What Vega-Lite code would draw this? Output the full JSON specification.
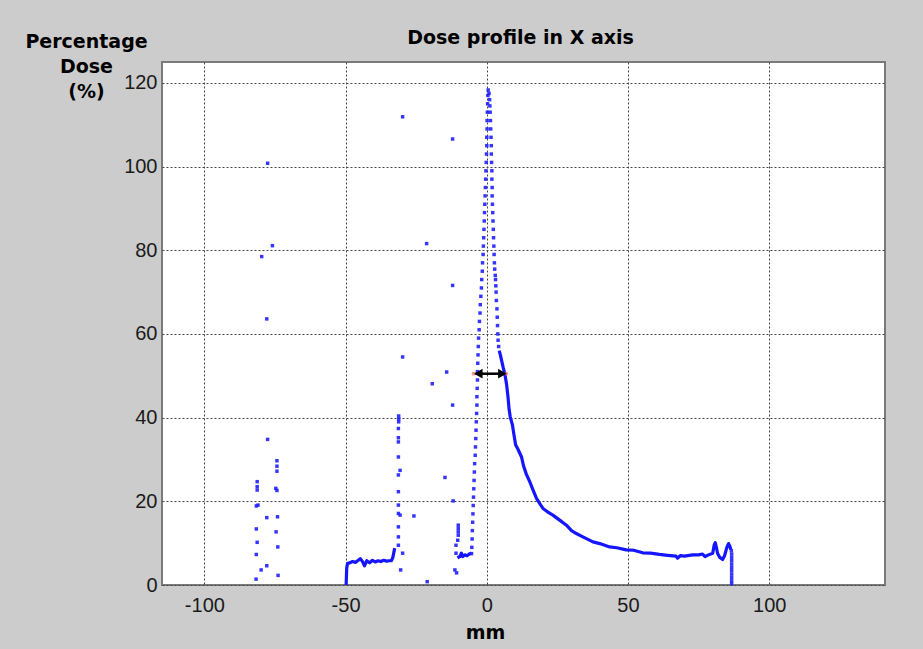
{
  "$schema": "https://vega.github.io/schema/vega-lite/v6.json",
  "width": 723,
  "height": 523,
  "autosize": {"type": "none"},
  "padding": {"left": 162, "top": 62, "right": 38, "bottom": 64},
  "background": "#cccccc",
  "config": {
    "view": {"fill": "white", "stroke": "#7a7a7a", "strokeWidth": 2},
    "axis": {
      "grid": true,
      "gridColor": "#444444",
      "gridDash": [2, 2],
      "gridWidth": 1,
      "ticks": false,
      "domain": false,
      "labelFont": "Liberation Sans",
      "labelFontSize": 20,
      "labelColor": "#1a1a1a",
      "titleFont": "DejaVu Sans",
      "titleFontSize": 19,
      "titleFontWeight": "bold",
      "titleColor": "#000000"
    }
  },
  "title": {
    "text": "Dose profile in X axis",
    "font": "DejaVu Sans",
    "fontSize": 19,
    "fontWeight": "bold",
    "color": "#000000",
    "anchor": "middle",
    "frame": "group",
    "baseline": "alphabetic",
    "offset": 19,
    "dy": 50,
    "dx": -3
  },
  "datasets": {
    "lines": [
      {"s": "plateau", "x": -49.8, "y": 0},
      {"s": "plateau", "x": -49.7, "y": 2},
      {"s": "plateau", "x": -49.6, "y": 4},
      {"s": "plateau", "x": -49.3, "y": 5.2},
      {"s": "plateau", "x": -48.5, "y": 5.3},
      {"s": "plateau", "x": -47.5, "y": 5.6},
      {"s": "plateau", "x": -46.5, "y": 5.4},
      {"s": "plateau", "x": -45.5, "y": 5.9},
      {"s": "plateau", "x": -44.8, "y": 6.3},
      {"s": "plateau", "x": -44.0, "y": 5.6},
      {"s": "plateau", "x": -43.3, "y": 4.6},
      {"s": "plateau", "x": -42.5, "y": 5.8},
      {"s": "plateau", "x": -41.5, "y": 5.3},
      {"s": "plateau", "x": -40.5, "y": 5.9},
      {"s": "plateau", "x": -39.5, "y": 5.5},
      {"s": "plateau", "x": -38.5, "y": 5.8},
      {"s": "plateau", "x": -37.5, "y": 5.6},
      {"s": "plateau", "x": -36.5, "y": 5.9},
      {"s": "plateau", "x": -35.5, "y": 5.7},
      {"s": "plateau", "x": -34.5, "y": 5.8},
      {"s": "plateau", "x": -33.8, "y": 5.8},
      {"s": "plateau", "x": -33.3, "y": 6.5},
      {"s": "plateau", "x": -32.6, "y": 8.8},
      {"s": "small", "x": -10.4, "y": 6.5},
      {"s": "small", "x": -9.5, "y": 6.8},
      {"s": "small", "x": -9.0, "y": 7.6},
      {"s": "small", "x": -8.5, "y": 6.8},
      {"s": "small", "x": -7.8, "y": 7.2},
      {"s": "small", "x": -7.0, "y": 7.0},
      {"s": "small", "x": -6.2, "y": 7.4},
      {"s": "small", "x": -5.5, "y": 7.6},
      {"s": "tail", "x": 4.4, "y": 56},
      {"s": "tail", "x": 4.8, "y": 55},
      {"s": "tail", "x": 5.3, "y": 53.5},
      {"s": "tail", "x": 5.8, "y": 52},
      {"s": "tail", "x": 6.4, "y": 50.4},
      {"s": "tail", "x": 7.0, "y": 48},
      {"s": "tail", "x": 7.5, "y": 45},
      {"s": "tail", "x": 7.9, "y": 42},
      {"s": "tail", "x": 8.3, "y": 40.2},
      {"s": "tail", "x": 9.1, "y": 38.2},
      {"s": "tail", "x": 9.6, "y": 36},
      {"s": "tail", "x": 10.2, "y": 33.5},
      {"s": "tail", "x": 11.0, "y": 32.5},
      {"s": "tail", "x": 12.3, "y": 30.6},
      {"s": "tail", "x": 13.0, "y": 28.5},
      {"s": "tail", "x": 14.0, "y": 26.5},
      {"s": "tail", "x": 15.2, "y": 24.7},
      {"s": "tail", "x": 16.5, "y": 22.5},
      {"s": "tail", "x": 17.6, "y": 20.7},
      {"s": "tail", "x": 19.0, "y": 19.2},
      {"s": "tail", "x": 19.9, "y": 18.3},
      {"s": "tail", "x": 21.5, "y": 17.5},
      {"s": "tail", "x": 23.4, "y": 16.7},
      {"s": "tail", "x": 25.8, "y": 15.5},
      {"s": "tail", "x": 28.2, "y": 14.3},
      {"s": "tail", "x": 30.0, "y": 13.0},
      {"s": "tail", "x": 31.7, "y": 12.3},
      {"s": "tail", "x": 34.0, "y": 11.5},
      {"s": "tail", "x": 37.6, "y": 10.3},
      {"s": "tail", "x": 40.0, "y": 9.9},
      {"s": "tail", "x": 43.5, "y": 9.1},
      {"s": "tail", "x": 46.0, "y": 8.9},
      {"s": "tail", "x": 49.4, "y": 8.4},
      {"s": "tail", "x": 52.0, "y": 8.3},
      {"s": "tail", "x": 55.2, "y": 7.7},
      {"s": "tail", "x": 58.0, "y": 7.6},
      {"s": "tail", "x": 61.1, "y": 7.3},
      {"s": "tail", "x": 64.0, "y": 7.1},
      {"s": "tail", "x": 67.0, "y": 6.9},
      {"s": "tail", "x": 67.5, "y": 6.4},
      {"s": "tail", "x": 68.5, "y": 7.0},
      {"s": "tail", "x": 70.0, "y": 6.9},
      {"s": "tail", "x": 72.9, "y": 7.2},
      {"s": "tail", "x": 75.0, "y": 7.2},
      {"s": "tail", "x": 76.4, "y": 7.4},
      {"s": "tail", "x": 77.3, "y": 6.8},
      {"s": "tail", "x": 78.5, "y": 7.2},
      {"s": "tail", "x": 80.0, "y": 7.6},
      {"s": "tail", "x": 80.5, "y": 9.5},
      {"s": "tail", "x": 80.9, "y": 10.1},
      {"s": "tail", "x": 81.3, "y": 9.0},
      {"s": "tail", "x": 81.7, "y": 7.6},
      {"s": "tail", "x": 82.5, "y": 6.6},
      {"s": "tail", "x": 83.5, "y": 6.1},
      {"s": "tail", "x": 84.2, "y": 7.0},
      {"s": "tail", "x": 85.0, "y": 9.0},
      {"s": "tail", "x": 85.6, "y": 9.9},
      {"s": "tail", "x": 86.1, "y": 9.2},
      {"s": "tail", "x": 86.4, "y": 8.5}
    ],
    "dots": [
      {"x": -77.6, "y": 100.8}, {"x": -75.9, "y": 81.1}, {"x": -79.7, "y": 78.5}, {"x": -77.9, "y": 63.6},
      {"x": -77.6, "y": 34.8}, {"x": -74.3, "y": 29.7}, {"x": -74.3, "y": 28.4}, {"x": -74.3, "y": 27.2},
      {"x": -81.3, "y": 24.7}, {"x": -81.3, "y": 23.5}, {"x": -81.3, "y": 22.7}, {"x": -74.7, "y": 23.1},
      {"x": -74.3, "y": 22.6}, {"x": -81.0, "y": 19.1}, {"x": -81.6, "y": 18.9}, {"x": -77.9, "y": 16.1},
      {"x": -74.1, "y": 16.3}, {"x": -81.6, "y": 13.4}, {"x": -74.6, "y": 12.7}, {"x": -81.3, "y": 10.2},
      {"x": -74.0, "y": 9.1}, {"x": -81.6, "y": 7.3}, {"x": -77.9, "y": 4.6}, {"x": -79.9, "y": 3.6},
      {"x": -73.9, "y": 2.3}, {"x": -81.7, "y": 1.4},
      {"x": -31.3, "y": 9.5}, {"x": -31.3, "y": 11.5}, {"x": -31.3, "y": 13.9}, {"x": -31.3, "y": 17.1},
      {"x": -31.3, "y": 19.1}, {"x": -31.3, "y": 22.3}, {"x": -31.3, "y": 26.3}, {"x": -31.3, "y": 30.6},
      {"x": -31.3, "y": 34.2}, {"x": -31.3, "y": 35.2}, {"x": -31.3, "y": 37.4}, {"x": -31.2, "y": 39.0},
      {"x": -31.2, "y": 39.7}, {"x": -31.2, "y": 40.4}, {"x": -30.7, "y": 27.4}, {"x": -30.7, "y": 16.7},
      {"x": -29.8, "y": 111.9}, {"x": -12.1, "y": 106.6}, {"x": -21.3, "y": 81.6}, {"x": -12.1, "y": 71.6},
      {"x": -29.8, "y": 54.5}, {"x": -14.2, "y": 50.9}, {"x": -19.3, "y": 48.1}, {"x": -12.1, "y": 43.0},
      {"x": -14.8, "y": 25.7}, {"x": -11.9, "y": 20.1}, {"x": -25.8, "y": 16.5}, {"x": -29.8, "y": 7.6},
      {"x": -30.5, "y": 3.6}, {"x": -21.1, "y": 0.8},
      {"x": -10.1, "y": 14.3}, {"x": -10.1, "y": 13.5}, {"x": -10.1, "y": 12.7}, {"x": -10.1, "y": 11.9},
      {"x": -10.3, "y": 10.7}, {"x": -10.9, "y": 9.5}, {"x": -10.9, "y": 7.6}, {"x": -11.3, "y": 3.6},
      {"x": -10.7, "y": 2.9},
      {"x": -5.4, "y": 7.5}, {"x": -5.3, "y": 9}, {"x": -5.2, "y": 11}, {"x": -5.1, "y": 13}, {"x": -5.0, "y": 15},
      {"x": -4.9, "y": 17}, {"x": -4.8, "y": 19}, {"x": -4.7, "y": 21}, {"x": -4.6, "y": 23}, {"x": -4.5, "y": 25},
      {"x": -4.4, "y": 27}, {"x": -4.3, "y": 29}, {"x": -4.1, "y": 31}, {"x": -4.0, "y": 33}, {"x": -3.9, "y": 35},
      {"x": -3.8, "y": 37}, {"x": -3.7, "y": 39}, {"x": -3.6, "y": 41}, {"x": -3.5, "y": 43}, {"x": -3.5, "y": 45},
      {"x": -3.4, "y": 47}, {"x": -3.3, "y": 49}, {"x": -3.3, "y": 51}, {"x": -3.2, "y": 53}, {"x": -3.1, "y": 55},
      {"x": -3.0, "y": 57}, {"x": -2.9, "y": 59}, {"x": -2.7, "y": 61}, {"x": -2.6, "y": 63}, {"x": -2.4, "y": 65},
      {"x": -2.3, "y": 67}, {"x": -2.1, "y": 69}, {"x": -1.9, "y": 71}, {"x": -1.8, "y": 73}, {"x": -1.6, "y": 75},
      {"x": -1.5, "y": 77}, {"x": -1.3, "y": 79}, {"x": -1.2, "y": 81}, {"x": -1.1, "y": 83}, {"x": -1.0, "y": 85},
      {"x": -0.9, "y": 87}, {"x": -0.8, "y": 89}, {"x": -0.7, "y": 91}, {"x": -0.6, "y": 93}, {"x": -0.5, "y": 95},
      {"x": -0.4, "y": 97}, {"x": -0.3, "y": 99}, {"x": -0.2, "y": 101}, {"x": -0.1, "y": 103}, {"x": 0.0, "y": 105},
      {"x": 0.0, "y": 107}, {"x": 0.1, "y": 109}, {"x": 0.1, "y": 111}, {"x": 0.2, "y": 113}, {"x": 0.3, "y": 115},
      {"x": 0.4, "y": 117}, {"x": 0.5, "y": 118.3},
      {"x": 0.8, "y": 117.5}, {"x": 1.0, "y": 116}, {"x": 1.1, "y": 114.5}, {"x": 1.2, "y": 113}, {"x": 1.3, "y": 111},
      {"x": 1.4, "y": 109}, {"x": 1.5, "y": 107}, {"x": 1.6, "y": 105}, {"x": 1.6, "y": 103}, {"x": 1.7, "y": 101},
      {"x": 1.8, "y": 99}, {"x": 1.8, "y": 97}, {"x": 1.9, "y": 95}, {"x": 1.9, "y": 93}, {"x": 2.0, "y": 91},
      {"x": 2.1, "y": 89}, {"x": 2.2, "y": 87}, {"x": 2.3, "y": 85}, {"x": 2.4, "y": 83}, {"x": 2.5, "y": 81},
      {"x": 2.6, "y": 79}, {"x": 2.7, "y": 77}, {"x": 2.8, "y": 75.5}, {"x": 3.0, "y": 74}, {"x": 3.1, "y": 73},
      {"x": 3.2, "y": 71.5}, {"x": 3.3, "y": 70}, {"x": 3.4, "y": 68}, {"x": 3.6, "y": 66}, {"x": 3.7, "y": 64},
      {"x": 3.8, "y": 62}, {"x": 3.9, "y": 60}, {"x": 4.0, "y": 58.5}, {"x": 4.2, "y": 57},
      {"x": 86.6, "y": 8.2}, {"x": 86.7, "y": 7.4}, {"x": 86.7, "y": 6.6}, {"x": 86.7, "y": 5.8}, {"x": 86.7, "y": 5.0},
      {"x": 86.7, "y": 4.2}, {"x": 86.7, "y": 3.4}, {"x": 86.7, "y": 2.6}, {"x": 86.7, "y": 1.8}, {"x": 86.7, "y": 1.0},
      {"x": 86.7, "y": 0.3}
    ],
    "arrow": [{"x": -4.0, "x2": 6.2, "y": 50.5}],
    "tips": [{"x": -4.7, "y": 50.5}, {"x": 6.9, "y": 50.5}],
    "heads": [
      {"x": -3.0, "y": 50.5, "shape": "triangle-left"},
      {"x": 5.5, "y": 50.5, "shape": "triangle-right"}
    ]
  },
  "layer": [
    {
      "data": {"name": "lines"},
      "mark": {"type": "line", "color": "#1515ff", "strokeWidth": 3.2, "strokeJoin": "round"},
      "encoding": {
        "x": {
          "field": "x", "type": "quantitative",
          "scale": {"domain": [-115, 141], "nice": false, "zero": false},
          "axis": {
            "values": [-100, -50, 0, 50, 100],
            "labelExpr": "datum.value < 0 ? '-' + abs(datum.value) : '' + datum.value",
            "labelPadding": 10,
            "title": "mm",
            "titleX": 323,
            "titleY": 53,
            "titleBaseline": "alphabetic",
            "titleAnchor": null,
            "titleAlign": "center"
          }
        },
        "y": {
          "field": "y", "type": "quantitative",
          "scale": {"domain": [0, 125], "nice": false, "zero": false},
          "axis": {
            "values": [0, 20, 40, 60, 80, 100, 120],
            "labelPadding": 5,
            "title": ["Percentage", "Dose", "(%)"],
            "titleAngle": 0,
            "titleAlign": "center",
            "titleBaseline": "alphabetic",
            "titleX": -76,
            "titleY": -15,
            "titleLineHeight": 25,
            "titleAnchor": null
          }
        },
        "detail": {"field": "s"}
      }
    },
    {
      "data": {"name": "dots"},
      "mark": {"type": "point", "shape": "square", "filled": true, "size": 12, "color": "#1f1fff", "opacity": 0.9},
      "encoding": {
        "x": {"field": "x", "type": "quantitative", "scale": {"domain": [-115, 141], "nice": false, "zero": false}},
        "y": {"field": "y", "type": "quantitative", "scale": {"domain": [0, 125], "nice": false, "zero": false}}
      }
    },
    {
      "data": {"name": "tips"},
      "mark": {"type": "point", "shape": "circle", "filled": true, "size": 14, "color": "#ff6060"},
      "encoding": {
        "x": {"field": "x", "type": "quantitative", "scale": {"domain": [-115, 141], "nice": false, "zero": false}},
        "y": {"field": "y", "type": "quantitative", "scale": {"domain": [0, 125], "nice": false, "zero": false}}
      }
    },
    {
      "data": {"name": "arrow"},
      "mark": {"type": "rule", "color": "#000000", "strokeWidth": 2.5},
      "encoding": {
        "x": {"field": "x", "type": "quantitative", "scale": {"domain": [-115, 141], "nice": false, "zero": false}},
        "x2": {"field": "x2"},
        "y": {"field": "y", "type": "quantitative", "scale": {"domain": [0, 125], "nice": false, "zero": false}}
      }
    },
    {
      "data": {"name": "heads"},
      "mark": {"type": "point", "filled": true, "size": 95, "color": "#000000", "opacity": 1},
      "encoding": {
        "x": {"field": "x", "type": "quantitative", "scale": {"domain": [-115, 141], "nice": false, "zero": false}},
        "y": {"field": "y", "type": "quantitative", "scale": {"domain": [0, 125], "nice": false, "zero": false}},
        "shape": {"field": "shape", "type": "nominal", "scale": null}
      }
    }
  ]
}
